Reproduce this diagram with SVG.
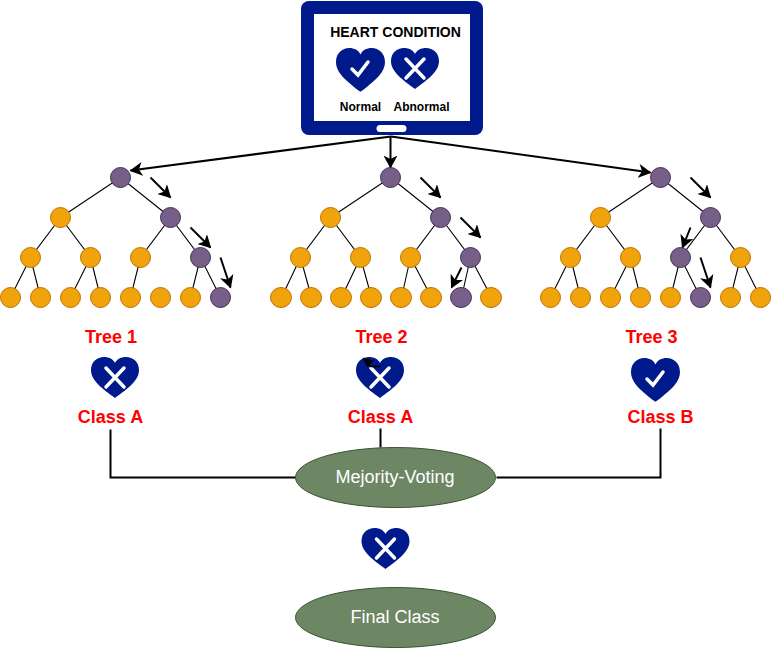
<svg xmlns="http://www.w3.org/2000/svg" width="771" height="649" viewBox="0 0 771 649">
<style>
text{font-family:"Liberation Sans",Arial,sans-serif;text-anchor:middle}
.o{fill:#f0a30a;stroke:#bd7000;stroke-width:1}
.p{fill:#76608a;stroke:#432d57;stroke-width:1}
.e{stroke:#000;stroke-width:1.1;fill:none}
.a{stroke:#000;stroke-width:2;fill:none;marker-end:url(#ah)}
.c{stroke:#000;stroke-width:2;fill:none}
.r{font-size:18px;font-weight:bold;fill:#ff0000}
.m{font-size:12px;font-weight:bold;fill:#000}
.g{fill:#6d8764;stroke:#3a5431;stroke-width:1}
.l{font-size:18px;fill:#fff}
.w{stroke:#fff;fill:none;stroke-linecap:round}
</style>
<defs>
<marker id="ah" markerUnits="userSpaceOnUse" markerWidth="15" markerHeight="14" refX="12" refY="7" orient="auto"><path d="M0 0L13 7L0 14L3.500 7Z" fill="#000"/></marker>
<path id="h" d="M24 41C12 32 0 24 0 13C0 5 6 0 13 0C18 0 22 2 24 6C26 2 30 0 35 0C42 0 48 5 48 13C48 24 36 32 24 41Z" fill="#001a8c"/>
<g id="ok"><use href="#h" transform="scale(1.02 1.07)"/><path class="w" stroke-width="3.500" d="M16 21L22 27L32 14"/></g>
<g id="no"><use href="#h"/><path class="w" stroke-width="3.500" d="M15 30L33 11M15 11L33 30"/></g>
</defs>
<g transform="translate(.5 .5)">
<g id="monitor">
<rect x="300.500" y="0.500" width="182" height="134" rx="8" fill="#001a8c"/>
<rect x="313.500" y="13.500" width="156" height="107" fill="#fff"/>
<rect x="376" y="124.500" width="30" height="7" rx="3.500" fill="#fff"/>
<text x="395" y="36" class="m" style="font-size:14px">HEART CONDITION</text>
<use href="#ok" x="335.500" y="47.500"/>
<use href="#no" x="390.500" y="47.500"/>
<text x="360" y="110" class="m">Normal</text>
<text x="421" y="110" class="m">Abnormal</text>
</g>
<g id="connectors">
<path class="a" d="M390.500 136L130 170"/>
<path class="a" d="M390 136V167"/>
<path class="a" d="M390.500 136L650 172"/>
<path class="c" d="M110 429V477H296M380 428V447M660 428V477H496"/>
<path class="a" d="M150 177L170 197"/><path class="a" d="M190 227L210 247"/><path class="a" d="M220 257L230 287"/>
<path class="a" d="M420 177L440 197"/><path class="a" d="M460 217L480 237"/><path class="a" d="M461 267L451 287"/>
<path class="a" d="M690 177L710 197"/><path class="a" d="M690 227L682 247"/><path class="a" d="M700 257L710 287"/>
</g>
<g id="tree1">
<path class="e" d="M120 177L60 217M120 177L170 217M60 217L30 257M60 217L90 257M170 217L140 257M170 217L200 257M30 257L10 297M30 257L40 297M90 257L70 297M90 257L100 297M140 257L130 297M200 257L190 297M200 257L220 297"/>
<circle class="p" cx="120" cy="177" r="10"/><circle class="o" cx="60" cy="217" r="10"/><circle class="p" cx="170" cy="217" r="10"/>
<circle class="o" cx="30" cy="257" r="10"/><circle class="o" cx="90" cy="257" r="10"/><circle class="o" cx="140" cy="257" r="10"/><circle class="p" cx="200" cy="257" r="10"/>
<circle class="o" cx="10" cy="297" r="10"/><circle class="o" cx="40" cy="297" r="10"/><circle class="o" cx="70" cy="297" r="10"/><circle class="o" cx="100" cy="297" r="10"/><circle class="o" cx="130" cy="297" r="10"/><circle class="o" cx="160" cy="297" r="10"/><circle class="o" cx="190" cy="297" r="10"/><circle class="p" cx="220" cy="297" r="10"/>
<text x="110.500" y="342.500" class="r">Tree 1</text>
<use href="#no" x="90.500" y="356.500"/>
<text x="110" y="422.500" class="r">Class A</text>
</g>
<g id="tree2">
<path class="e" d="M390 177L330 217M390 177L440 217M330 217L300 257M330 217L360 257M440 217L410 257M440 217L470 257M300 257L281 297M300 257L311 297M360 257L341 297M360 257L371 297M410 257L401 297M410 257L431 297M470 257L461 297M470 257L491 297"/>
<circle class="p" cx="390" cy="177" r="10"/><circle class="o" cx="330" cy="217" r="10"/><circle class="p" cx="440" cy="217" r="10"/>
<circle class="o" cx="300" cy="257" r="10"/><circle class="o" cx="360" cy="257" r="10"/><circle class="o" cx="410" cy="257" r="10"/><circle class="p" cx="470" cy="257" r="10"/>
<ellipse class="o" cx="280.500" cy="297" rx="10.500" ry="10"/><ellipse class="o" cx="310.500" cy="297" rx="10.500" ry="10"/><ellipse class="o" cx="340.500" cy="297" rx="10.500" ry="10"/><ellipse class="o" cx="370.500" cy="297" rx="10.500" ry="10"/><ellipse class="o" cx="400.500" cy="297" rx="10.500" ry="10"/><ellipse class="o" cx="430.500" cy="297" rx="10.500" ry="10"/><ellipse class="p" cx="460.500" cy="297" rx="10.500" ry="10"/><ellipse class="o" cx="490.500" cy="297" rx="10.500" ry="10"/>
<text x="381" y="342.500" class="r">Tree 2</text>
<use href="#no" x="355.500" y="356.500"/>
<path d="M380 366H370L363 359" stroke="#000" stroke-width="1.500" fill="none"/><path d="M362 357L373 360L367 367Z" fill="#000"/>
<text x="380" y="422.500" class="r">Class A</text>
</g>
<g id="tree3">
<path class="e" d="M660 177L600 217M660 177L710 217M600 217L570 257M600 217L630 257M710 217L680 257M710 217L740 257M570 257L550 297M570 257L580 297M630 257L610 297M630 257L640 297M680 257L670 297M680 257L700 297M740 257L730 297M740 257L760 297"/>
<circle class="p" cx="660" cy="177" r="10"/><circle class="o" cx="600" cy="217" r="10"/><circle class="p" cx="710" cy="217" r="10"/>
<circle class="o" cx="570" cy="257" r="10"/><circle class="o" cx="630" cy="257" r="10"/><circle class="p" cx="680" cy="257" r="10"/><circle class="o" cx="740" cy="257" r="10"/>
<circle class="o" cx="550" cy="297" r="10"/><circle class="o" cx="580" cy="297" r="10"/><circle class="o" cx="610" cy="297" r="10"/><circle class="o" cx="640" cy="297" r="10"/><circle class="o" cx="670" cy="297" r="10"/><circle class="p" cx="700" cy="297" r="10"/><circle class="o" cx="730" cy="297" r="10"/><circle class="o" cx="760" cy="297" r="10"/>
<text x="651" y="342.500" class="r">Tree 3</text>
<use href="#ok" x="630.500" y="357.500"/>
<text x="660" y="422.500" class="r">Class B</text>
</g>
<g id="voting"><ellipse class="g" cx="395" cy="477" rx="100" ry="30"/><text x="394.500" y="482" class="l">Mejority-Voting</text></g>
<g id="result-heart"><use href="#no" x="361" y="527.500"/></g>
<g id="final"><ellipse class="g" cx="395" cy="617" rx="100" ry="30"/><text x="394.500" y="622" class="l">Final Class</text></g>
</g>
</svg>
